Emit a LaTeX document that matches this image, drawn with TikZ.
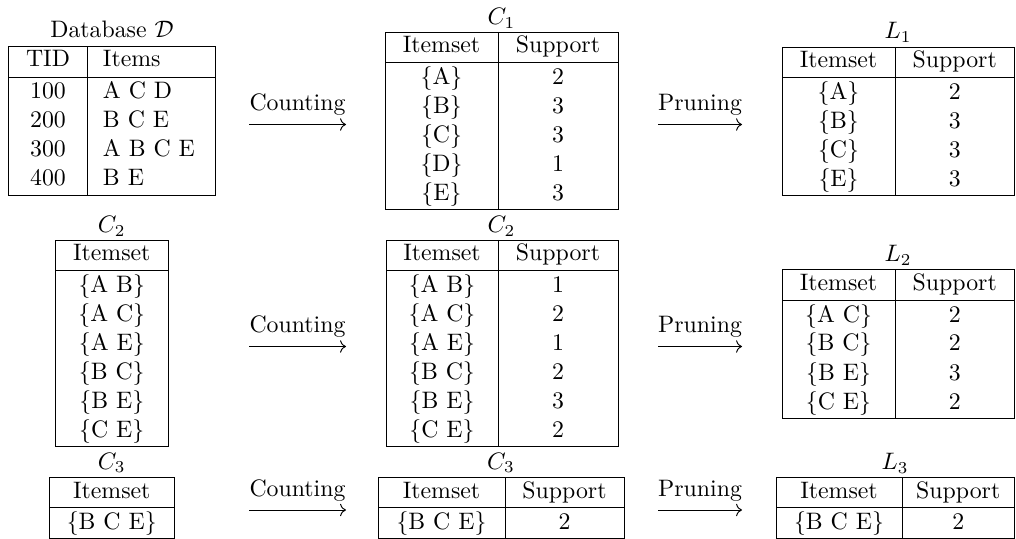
\documentclass[tikz,border=0pt]{standalone}
\usetikzlibrary{arrows.meta}
\tikzset{
  tline/.style={line width=0.4pt},
  cell/.style={inner sep=0pt, anchor=base},
  lcell/.style={inner sep=0pt, anchor=base west},
  ttl/.style={inner sep=0pt, anchor=base},
  flow/.style={-{Computer Modern Rightarrow}, line width=0.4pt}
}
% frame of a two-column table: l, d, r, top, bottom
\newcommand\tbltwo[5]{%
  \draw[tline] (#1,#4) rectangle (#3,#5);
  \draw[tline] (#1,#4+30.5) -- (#3,#4+30.5);
  \draw[tline] (#2,#4) -- (#2,#5);}
% frame of a one-column table: l, r, top, bottom
\newcommand\tblone[4]{%
  \draw[tline] (#1,#3) rectangle (#2,#4);
  \draw[tline] (#1,#3+30.5) -- (#2,#3+30.5);}
\begin{document}
\begin{tikzpicture}[x=0.42pt,y=-0.42pt]
\useasboundingbox (0,0) rectangle (1016,539);

% ---------- Database D ----------
\node[ttl] (dbT) at (112,37.5) {Database $\mathcal{D}$};
\tbltwo{8.5}{87.5}{215}{46.5}{195}
\node[cell] (dbH1) at (48,67) {TID};
\node[lcell] (dbH2) at (102.5,67) {Items};
\node[cell] (db1a) at (48,99) {100};  \node[lcell] (db1b) at (102.5,99) {A C D};
\node[cell] (db2a) at (48,128) {200}; \node[lcell] (db2b) at (102.5,128) {B C E};
\node[cell] (db3a) at (48,157) {300}; \node[lcell] (db3b) at (102.5,157) {A B C E};
\node[cell] (db4a) at (48,186) {400}; \node[lcell] (db4b) at (102.5,186) {B E};

% ---------- C1 ----------
\node[ttl] (c1T) at (501.5,24.5) {$C_1$};
\tbltwo{385}{498}{618}{32}{209.5}
\node[cell] (c1H1) at (441.5,53) {Itemset}; \node[cell] (c1H2) at (558,53) {Support};
\node[cell] (c11a) at (441.5,84.5) {\{A\}};  \node[cell] (c11b) at (558,84.5) {2};
\node[cell] (c12a) at (441.5,113.5) {\{B\}}; \node[cell] (c12b) at (558,113.5) {3};
\node[cell] (c13a) at (441.5,142.5) {\{C\}}; \node[cell] (c13b) at (558,142.5) {3};
\node[cell] (c14a) at (441.5,171.5) {\{D\}}; \node[cell] (c14b) at (558,171.5) {1};
\node[cell] (c15a) at (441.5,200.5) {\{E\}}; \node[cell] (c15b) at (558,200.5) {3};

% ---------- L1 ----------
\node[ttl] (l1T) at (898,39) {$L_1$};
\tbltwo{782}{895}{1014.5}{47}{195.5}
\node[cell] (l1H1) at (838.5,68) {Itemset}; \node[cell] (l1H2) at (954.75,68) {Support};
\node[cell] (l11a) at (838.5,99.5) {\{A\}};  \node[cell] (l11b) at (954.75,99.5) {2};
\node[cell] (l12a) at (838.5,128.5) {\{B\}}; \node[cell] (l12b) at (954.75,128.5) {3};
\node[cell] (l13a) at (838.5,157.5) {\{C\}}; \node[cell] (l13b) at (954.75,157.5) {3};
\node[cell] (l14a) at (838.5,186.5) {\{E\}}; \node[cell] (l14b) at (954.75,186.5) {3};

% ---------- C2 (candidates) ----------
\node[ttl] (c2aT) at (111.75,232.5) {$C_2$};
\tblone{55}{168.5}{240}{446.5}
\node[cell] (c2aH) at (111.75,261) {Itemset};
\node[cell] (c2a1) at (111.75,292.5) {\{A B\}};
\node[cell] (c2a2) at (111.75,321.5) {\{A C\}};
\node[cell] (c2a3) at (111.75,350.5) {\{A E\}};
\node[cell] (c2a4) at (111.75,379.5) {\{B C\}};
\node[cell] (c2a5) at (111.75,408.5) {\{B E\}};
\node[cell] (c2a6) at (111.75,437.5) {\{C E\}};

% ---------- C2 (counted) ----------
\node[ttl] (c2bT) at (501.5,232.5) {$C_2$};
\tbltwo{386}{498}{618}{240}{446.5}
\node[cell] (c2bH1) at (442,261) {Itemset}; \node[cell] (c2bH2) at (558,261) {Support};
\node[cell] (c2b1a) at (442,292.5) {\{A B\}}; \node[cell] (c2b1b) at (558,292.5) {1};
\node[cell] (c2b2a) at (442,321.5) {\{A C\}}; \node[cell] (c2b2b) at (558,321.5) {2};
\node[cell] (c2b3a) at (442,350.5) {\{A E\}}; \node[cell] (c2b3b) at (558,350.5) {1};
\node[cell] (c2b4a) at (442,379.5) {\{B C\}}; \node[cell] (c2b4b) at (558,379.5) {2};
\node[cell] (c2b5a) at (442,408.5) {\{B E\}}; \node[cell] (c2b5b) at (558,408.5) {3};
\node[cell] (c2b6a) at (442,437.5) {\{C E\}}; \node[cell] (c2b6b) at (558,437.5) {2};

% ---------- L2 ----------
\node[ttl] (l2T) at (898,261.5) {$L_2$};
\tbltwo{782}{895}{1014.5}{269.5}{418}
\node[cell] (l2H1) at (838.5,290.5) {Itemset}; \node[cell] (l2H2) at (954.75,290.5) {Support};
\node[cell] (l21a) at (838.5,322) {\{A C\}}; \node[cell] (l21b) at (954.75,322) {2};
\node[cell] (l22a) at (838.5,351) {\{B C\}}; \node[cell] (l22b) at (954.75,351) {2};
\node[cell] (l23a) at (838.5,380) {\{B E\}}; \node[cell] (l23b) at (954.75,380) {3};
\node[cell] (l24a) at (838.5,409) {\{C E\}}; \node[cell] (l24b) at (954.75,409) {2};

% ---------- C3 (candidates) ----------
\node[ttl] (c3aT) at (111.75,469) {$C_3$};
\tblone{49}{174.5}{477}{538.5}
\node[cell] (c3aH) at (111.75,498) {Itemset};
\node[cell] (c3a1) at (111.75,529.5) {\{B C E\}};

% ---------- C3 (counted) ----------
\node[ttl] (c3bT) at (501,469) {$C_3$};
\tbltwo{378}{505}{624}{477}{538.5}
\node[cell] (c3bH1) at (441.5,498) {Itemset}; \node[cell] (c3bH2) at (564.5,498) {Support};
\node[cell] (c3b1a) at (441.5,529.5) {\{B C E\}}; \node[cell] (c3b1b) at (564.5,529.5) {2};

% ---------- L3 ----------
\node[ttl] (l3T) at (895,469.5) {$L_3$};
\tbltwo{776}{902}{1014.5}{477}{538.5}
\node[cell] (l3H1) at (839,498) {Itemset}; \node[cell] (l3H2) at (958.25,498) {Support};
\node[cell] (l31a) at (839,529.5) {\{B C E\}}; \node[cell] (l31b) at (958.25,529.5) {2};

% ---------- arrows ----------
\node[ttl] (cnt1) at (297.5,111) {Counting};
\coordinate (cnt1s) at (249,124.5); \coordinate (cnt1e) at (346,124.5);
\draw[flow] (cnt1s) -- (cnt1e);
\node[ttl] (prn1) at (700,111) {Pruning};
\coordinate (prn1s) at (658,124.5); \coordinate (prn1e) at (742,124.5);
\draw[flow] (prn1s) -- (prn1e);

\node[ttl] (cnt2) at (297.5,332.5) {Counting};
\coordinate (cnt2s) at (249,346.5); \coordinate (cnt2e) at (346,346.5);
\draw[flow] (cnt2s) -- (cnt2e);
\node[ttl] (prn2) at (700,332.5) {Pruning};
\coordinate (prn2s) at (658,346.5); \coordinate (prn2e) at (742,346.5);
\draw[flow] (prn2s) -- (prn2e);

\node[ttl] (cnt3) at (297.5,496.5) {Counting};
\coordinate (cnt3s) at (249,510); \coordinate (cnt3e) at (346,510);
\draw[flow] (cnt3s) -- (cnt3e);
\node[ttl] (prn3) at (700,496.5) {Pruning};
\coordinate (prn3s) at (658,510); \coordinate (prn3e) at (742,510);
\draw[flow] (prn3s) -- (prn3e);
\end{tikzpicture}
\end{document}
